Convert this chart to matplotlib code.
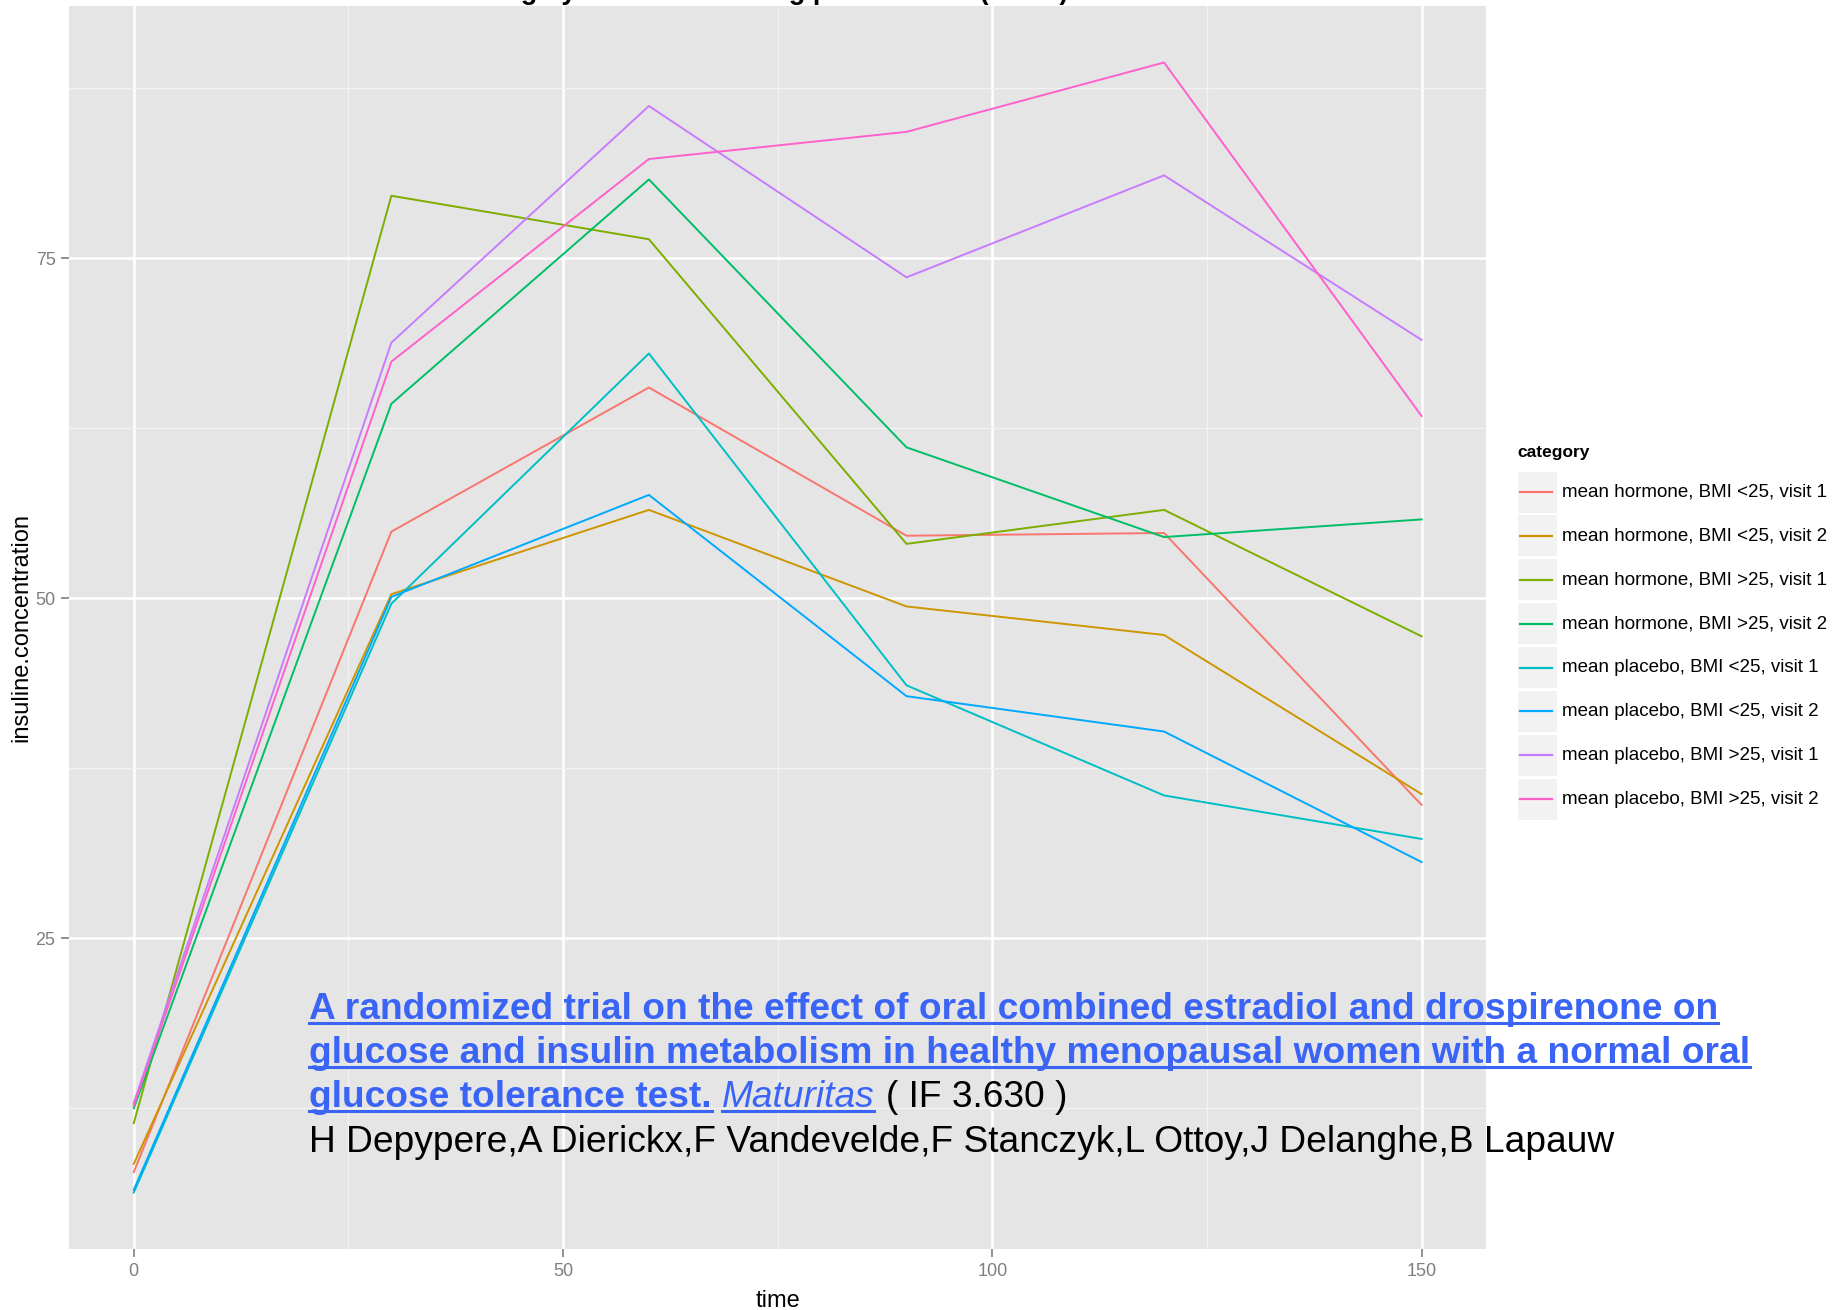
import matplotlib
matplotlib.use("Agg")
import matplotlib.pyplot as plt
from matplotlib.lines import Line2D
from matplotlib.patches import Rectangle

plt.rcParams['font.family'] = ['Liberation Sans', 'DejaVu Sans']

# --- data ---
time = [0, 30, 60, 90, 120, 150]

categories = [
    "mean hormone, BMI <25, visit 1",
    "mean hormone, BMI <25, visit 2",
    "mean hormone, BMI >25, visit 1",
    "mean hormone, BMI >25, visit 2",
    "mean placebo, BMI <25, visit 1",
    "mean placebo, BMI <25, visit 2",
    "mean placebo, BMI >25, visit 1",
    "mean placebo, BMI >25, visit 2",
]

hormone_lt25_v1 = [7.8, 54.9, 65.5, 54.6, 54.8, 34.8]
hormone_lt25_v2 = [8.4, 50.3, 56.5, 49.4, 47.3, 35.6]
hormone_gt25_v1 = [11.4, 79.6, 76.4, 54.0, 56.5, 47.2]
hormone_gt25_v2 = [12.5, 64.3, 80.8, 61.1, 54.5, 55.8]
placebo_lt25_v1 = [6.3, 49.6, 68.0, 43.6, 35.5, 32.3]
placebo_lt25_v2 = [6.5, 50.1, 57.6, 42.8, 40.2, 30.6]
placebo_gt25_v1 = [12.9, 68.8, 86.2, 73.6, 81.1, 69.0]
placebo_gt25_v2 = [12.7, 67.4, 82.3, 84.3, 89.4, 63.4]

series = [hormone_lt25_v1, hormone_lt25_v2, hormone_gt25_v1, hormone_gt25_v2,
          placebo_lt25_v1, placebo_lt25_v2, placebo_gt25_v1, placebo_gt25_v2]

colors = ["#F8766D", "#CD9600", "#7CAE00", "#00BE67",
          "#00BFC4", "#00A9FF", "#C77CFF", "#FF61CC"]

x_ticks = [0, 50, 100, 150]
y_ticks = [25, 50, 75]

W, H = 1844, 1310


def fx(px):
    return px / W


def fy(py):
    return 1 - py / H


fig = plt.figure(figsize=(W / 100, H / 100), dpi=100)
ax = fig.add_axes([fx(69.4), fy(1249), fx(1486) - fx(69.4), fy(6) - fy(1249)])

# ggplot-like panel
ax.set_facecolor("#E5E5E5")
for s in ax.spines.values():
    s.set_visible(False)

for i, vals in enumerate(series):
    ax.plot(time, vals, color=colors[i], lw=1.4, zorder=3)

# expand limits like ggplot (5%)
all_vals = [v for s in series for v in s]
lo, hi = min(all_vals), max(all_vals)
ax.set_ylim(lo - 0.05 * (hi - lo), hi + 0.05 * (hi - lo))
ax.set_xlim(-7.5, 157.5)

ax.set_xticks(x_ticks)
ax.set_yticks(y_ticks)
ax.set_xticks([25, 75, 125], minor=True)
ax.set_yticks([12.5, 37.5, 62.5, 87.5], minor=True)
ax.grid(which="major", color="white", lw=1.8, zorder=1)
ax.grid(which="minor", color="#F2F2F2", lw=1.0, zorder=1)
ax.set_axisbelow(True)
ax.tick_params(which="major", length=6, width=1.2, color="#7F7F7F",
               labelcolor="#7F7F7F", labelsize=13, pad=4)
ax.tick_params(which="minor", length=0)

ax.set_xlabel("time", fontsize=17, labelpad=7)
fig.text(fx(21), fy(627.5), "insuline.concentration", rotation=90,
         ha="center", va="center", fontsize=17)

# title, mostly cut off by the top edge
fig.text(fx(778), fy(-1), "Avg by BMI class among placebo arm (mean)",
         ha="center", va="baseline", fontsize=19.5, fontweight="bold")

# --- legend, drawn by hand like ggplot ---
fig.text(fx(1517), fy(453), "category", ha="left", va="center",
         fontsize=12.5, fontweight="bold")
row0, pitch = 471.5, 43.9
for i, lab in enumerate(categories):
    top = row0 + i * pitch
    fig.patches.append(Rectangle((fx(1518), fy(top + 41)), fx(1557) - fx(1518),
                                 fy(top) - fy(top + 41), transform=fig.transFigure,
                                 facecolor="#F2F2F2", edgecolor="none"))
    yc = top + 20.5
    fig.lines.append(Line2D([fx(1520), fx(1552)], [fy(yc), fy(yc)],
                            transform=fig.transFigure, color=colors[i], lw=1.6))
    fig.text(fx(1562), fy(yc), lab, ha="left", va="center", fontsize=13.5)

# --- citation text overlaid on the panel ---
link_blue = "#3A64F6"
fs = 26.7
lines_y = [1019, 1063, 1107, 1152]
renderer = fig.canvas.get_renderer()


def underline(t, y_px):
    bb = t.get_window_extent(renderer)
    fig.lines.append(Line2D([bb.x0 / W, bb.x1 / W], [fy(y_px + 4), fy(y_px + 4)],
                            transform=fig.transFigure, color=link_blue, lw=2.2))
    return bb


t1 = fig.text(fx(309), fy(lines_y[0]),
              "A randomized trial on the effect of oral combined estradiol and drospirenone on",
              fontsize=fs, fontweight="bold", color=link_blue, va="baseline")
t2 = fig.text(fx(309), fy(lines_y[1]),
              "glucose and insulin metabolism in healthy menopausal women with a normal oral",
              fontsize=fs, fontweight="bold", color=link_blue, va="baseline")
t3 = fig.text(fx(309), fy(lines_y[2]), "glucose tolerance test.",
              fontsize=fs, fontweight="bold", color=link_blue, va="baseline")
underline(t1, lines_y[0])
underline(t2, lines_y[1])
bb3 = underline(t3, lines_y[2])

t4 = fig.text((bb3.x1 + 10) / W, fy(lines_y[2]), "Maturitas",
              fontsize=fs, style="italic", color=link_blue, va="baseline")
bb4 = underline(t4, lines_y[2])
fig.text((bb4.x1 + 12) / W, fy(lines_y[2]), "( IF 3.630 )",
         fontsize=fs, color="black", va="baseline")

fig.text(fx(309), fy(lines_y[3]),
         "H Depypere,A Dierickx,F Vandevelde,F Stanczyk,L Ottoy,J Delanghe,B Lapauw",
         fontsize=fs, color="black", va="baseline")

fig.savefig("out.png", dpi=100)
